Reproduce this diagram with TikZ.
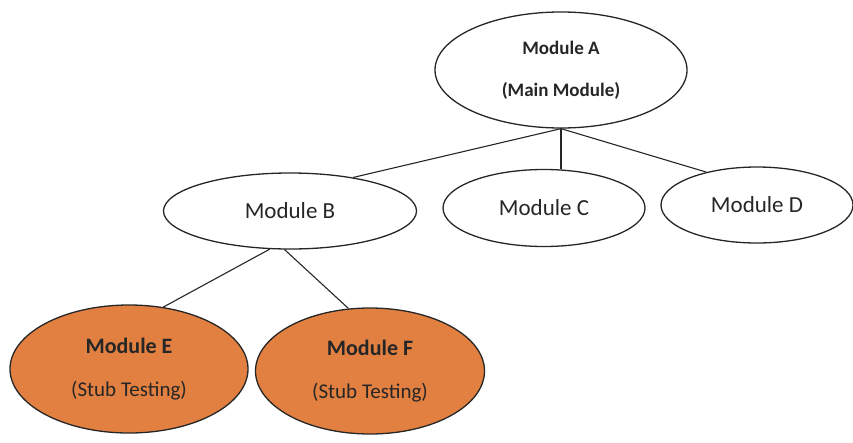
\documentclass[tikz,border=0pt]{standalone}
\usepackage{fontspec}
\setmainfont{Carlito}
\usetikzlibrary{shapes.geometric}
\definecolor{stuborange}{RGB}{226,128,66}
\begin{document}
\begin{tikzpicture}[x=1pt,y=-1pt,
  mod/.style={ellipse,draw=black!85,line width=1.3pt,inner sep=0pt,align=center,text=black!85},
  link/.style={draw=black!85,line width=1.1pt}]
\useasboundingbox (0,0) rectangle (853,442);
\node[mod,minimum width=252pt,minimum height=116pt,font=\fontsize{19}{42}\selectfont\bfseries] (A) at (561,70) {Module A\\(Main Module)};
\node[mod,minimum width=253pt,minimum height=76pt,font=\fontsize{23}{28}\selectfont] (B) at (290,211) {Module B};
\node[mod,minimum width=202pt,minimum height=77pt,font=\fontsize{23}{28}\selectfont] (C) at (544,208) {Module C};
\node[mod,minimum width=192pt,minimum height=76pt,font=\fontsize{23}{28}\selectfont] (D) at (757,205) {Module D};
\node[mod,fill=stuborange,minimum width=238pt,minimum height=128pt,font=\fontsize{21}{43}\selectfont] (E) at (129,369) {\textbf{\fontsize{22}{43}\selectfont Module E}\\(Stub Testing)};
\node[mod,fill=stuborange,minimum width=229pt,minimum height=126pt,font=\fontsize{21}{43}\selectfont] (F) at (370,371) {\textbf{\fontsize{22}{43}\selectfont Module F}\\(Stub Testing)};
\draw[link] (A.south) -- (B.28);
\draw[link] (A.south) -- (A.south |- C.north);
\draw[link] (A.south) -- (D.147);
\draw[link] (B.242) -- (E.61);
\draw[link] (B.262) -- (F.109);
\end{tikzpicture}
\end{document}
